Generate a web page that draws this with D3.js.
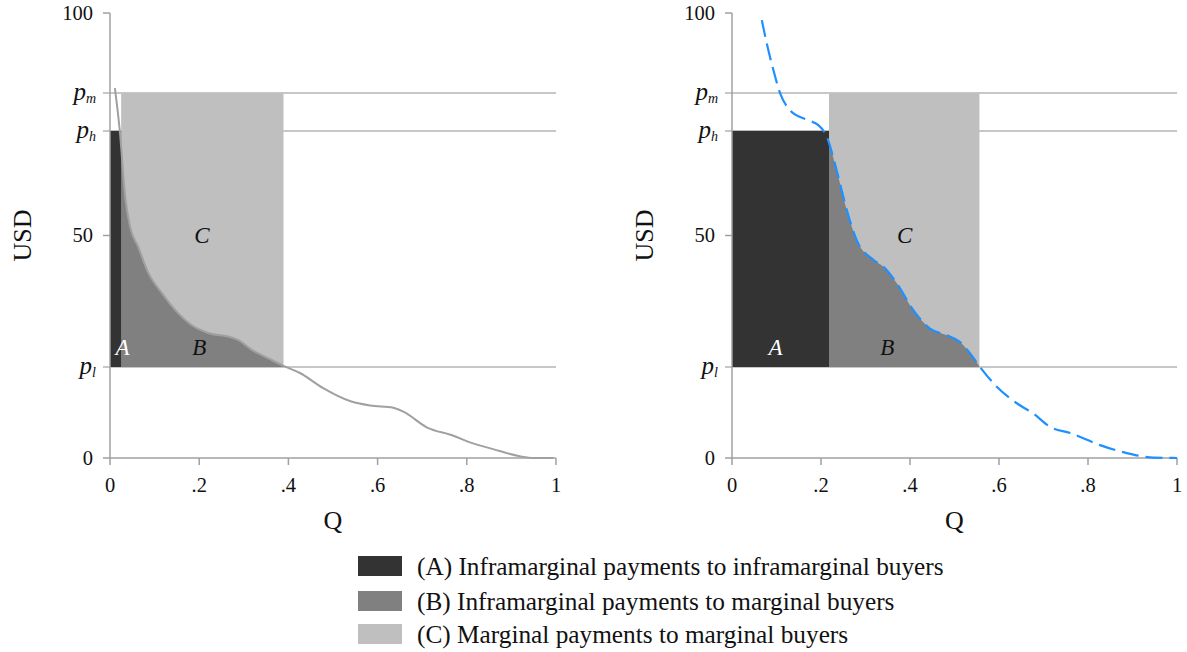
<!DOCTYPE html>
<html><head><meta charset="utf-8">
<script src="https://cdn.jsdelivr.net/npm/d3@7"></script>
<style>body{margin:0;background:#fff}svg{display:block}</style>
</head><body>
<svg id="c" width="1187" height="652"></svg>
<script>
// ---------- data ----------
const xTicks = [0, .2, .4, .6, .8, 1];
const xTickLabels = ["0", ".2", ".4", ".6", ".8", "1"];
const yTicks = [0, 50, 100];
const yTickLabels = ["0", "50", "100"];
const priceSubs = ["m", "h", "l"];
const prices = [82, 73.5, 20.45];          // p_m, p_h, p_l
const leftQ = [.011,.022,.034,.045,.063,.086,.116,.146,.183,.220,.265,.288,.318,.355,.389,.426,.478,.538,.583,.635,.658,.710,.770,.807,.859,.919,.949,.994];
const leftP = [83.1,73.5,58.7,51.9,47.5,41.6,37.1,33.3,29.9,28.1,27.3,26.5,24.3,22.4,20.7,19.1,15.7,12.8,11.8,11.3,10.4,6.9,5.0,3.5,2.0,0.4,0,0];
const rightQ = [.067,.078,.093,.108,.130,.168,.194,.213,.235,.258,.280,.318,.340,.370,.407,.445,.482,.512,.535,.557,.595,.640,.677,.715,.760,.827,.887,.947,1.0];
const rightP = [98.4,93.2,87.2,82.0,78.2,76.0,74.8,72.2,64.7,55.7,49.0,44.5,43.0,39.3,33.3,29.1,27.6,26.1,23.5,20.5,16.0,12.3,10.0,7.0,5.6,2.9,1.1,0.1,0];
const leftCuts = [0.025, 0.389];   // Q at p_h and p_l, left panel
const rightCuts = [0.218, 0.556];  // Q at p_h and p_l, right panel
const regionNames = ["A", "B", "C"];
const leftLabelQ = [0.028, 0.200, 0.206];
const rightLabelQ = [0.098, 0.349, 0.388];
const labelP = [24.8, 24.8, 50];
const legendLabels = [
  "(A) Inframarginal payments to inframarginal buyers",
  "(B) Inframarginal payments to marginal buyers",
  "(C) Marginal payments to marginal buyers"
];
const regionColors = ["#333333", "#808080", "#bfbfbf"];

// ---------- drawing ----------
const FONT = "Liberation Serif";
const svg = d3.select("#c");
const axisCol = "#a0a0a0";
const y = d3.scaleLinear().domain([0, 100]).range([458, 13]);

function txt(sel) { return sel.append("text").style("font-family", FONT).attr("fill", "#111"); }

function panel(idx, x0, x1, Q, P, cuts, labQ, curveStyle) {
  const g = svg.append("g");
  const x = d3.scaleLinear().domain([0, 1]).range([x0, x1]);
  const pts = Q.map((q, i) => [q, P[i]]);

  prices.forEach(p => {
    g.append("line").attr("x1", x0 - 7).attr("x2", x1).attr("y1", y(p)).attr("y2", y(p))
      .attr("stroke", "#b4b4b4").attr("stroke-width", 1.5);
  });

  g.append("rect").attr("x", x(cuts[0])).attr("width", x(cuts[1]) - x(cuts[0]))
    .attr("y", y(prices[0])).attr("height", y(prices[2]) - y(prices[0]))
    .attr("fill", regionColors[2]);

  const clipId = "clipB" + idx;
  g.append("clipPath").attr("id", clipId).append("rect")
    .attr("x", x(cuts[0])).attr("width", x(cuts[1]) - x(cuts[0]))
    .attr("y", y(prices[0])).attr("height", y(prices[2]) - y(prices[0]));
  const area = d3.area().x(d => x(d[0])).y0(y(prices[2])).y1(d => y(d[1])).curve(d3.curveMonotoneX);
  g.append("path").datum(pts).attr("d", area).attr("fill", regionColors[1])
    .attr("clip-path", `url(#${clipId})`);

  g.append("rect").attr("x", x(0)).attr("width", x(cuts[0]) - x(0))
    .attr("y", y(prices[1])).attr("height", y(prices[2]) - y(prices[1]))
    .attr("fill", regionColors[0]);

  g.append("line").attr("x1", x0).attr("x2", x0).attr("y1", y(100)).attr("y2", y(0))
    .attr("stroke", axisCol).attr("stroke-width", 1.5);
  g.append("line").attr("x1", x0).attr("x2", x1).attr("y1", y(0)).attr("y2", y(0))
    .attr("stroke", axisCol).attr("stroke-width", 1.5);

  yTicks.forEach((t, i) => {
    g.append("line").attr("x1", x0 - 7).attr("x2", x0).attr("y1", y(t)).attr("y2", y(t))
      .attr("stroke", axisCol).attr("stroke-width", 1.5);
    txt(g).attr("x", x0 - 17).attr("y", y(t)).attr("dy", "0.34em")
      .attr("text-anchor", "end").attr("font-size", 20.5).text(yTickLabels[i]);
  });
  prices.forEach((p, i) => {
    const t = txt(g).attr("x", x0 - 14).attr("y", y(p) + 7)
      .attr("text-anchor", "end").attr("font-style", "italic");
    t.append("tspan").attr("font-size", 25).text("p");
    t.append("tspan").attr("font-size", 14).attr("dy", 3).text(priceSubs[i]);
  });
  xTicks.forEach((t, i) => {
    g.append("line").attr("x1", x(t)).attr("x2", x(t)).attr("y1", y(0)).attr("y2", y(0) + 7)
      .attr("stroke", axisCol).attr("stroke-width", 1.5);
    txt(g).attr("x", x(t)).attr("y", y(0) + 27).attr("dy", "0.34em")
      .attr("text-anchor", "middle").attr("font-size", 20.5).text(xTickLabels[i]);
  });

  const line = d3.line().x(d => x(d[0])).y(d => y(d[1])).curve(d3.curveMonotoneX);
  const c = g.append("path").datum(pts).attr("d", line).attr("fill", "none")
    .attr("stroke", curveStyle.color).attr("stroke-width", curveStyle.width);
  if (curveStyle.dash) c.attr("stroke-dasharray", curveStyle.dash);

  regionNames.forEach((n, i) => {
    txt(g).attr("x", x(labQ[i])).attr("y", y(labelP[i])).attr("dy", "0.34em")
      .attr("text-anchor", "middle").attr("font-size", 23).attr("font-style", "italic")
      .attr("fill", i === 0 ? "#ffffff" : "#111").text(n);
  });

  txt(g).attr("transform", `translate(${x0 - 88},${y(50)}) rotate(-90)`)
    .attr("text-anchor", "middle").attr("dy", "0.34em").attr("font-size", 26).text("USD");
  txt(g).attr("x", (x0 + x1) / 2).attr("y", 520).attr("dy", "0.34em")
    .attr("text-anchor", "middle").attr("font-size", 26).text("Q");
}

panel(0, 110, 556, leftQ, leftP, leftCuts, leftLabelQ, {color: "#a0a0a0", width: 2});
panel(1, 732, 1177, rightQ, rightP, rightCuts, rightLabelQ, {color: "#1e90ff", width: 2.2, dash: "17,7"});

const lg = svg.append("g");
const rowY = [566, 601, 634];
legendLabels.forEach((l, i) => {
  lg.append("rect").attr("x", 358).attr("y", rowY[i] - 10).attr("width", 44).attr("height", 20)
    .attr("fill", regionColors[i]);
  txt(lg).attr("x", 417).attr("y", rowY[i]).attr("dy", "0.34em")
    .attr("font-size", 25.3).text(l);
});
</script>
</body></html>
